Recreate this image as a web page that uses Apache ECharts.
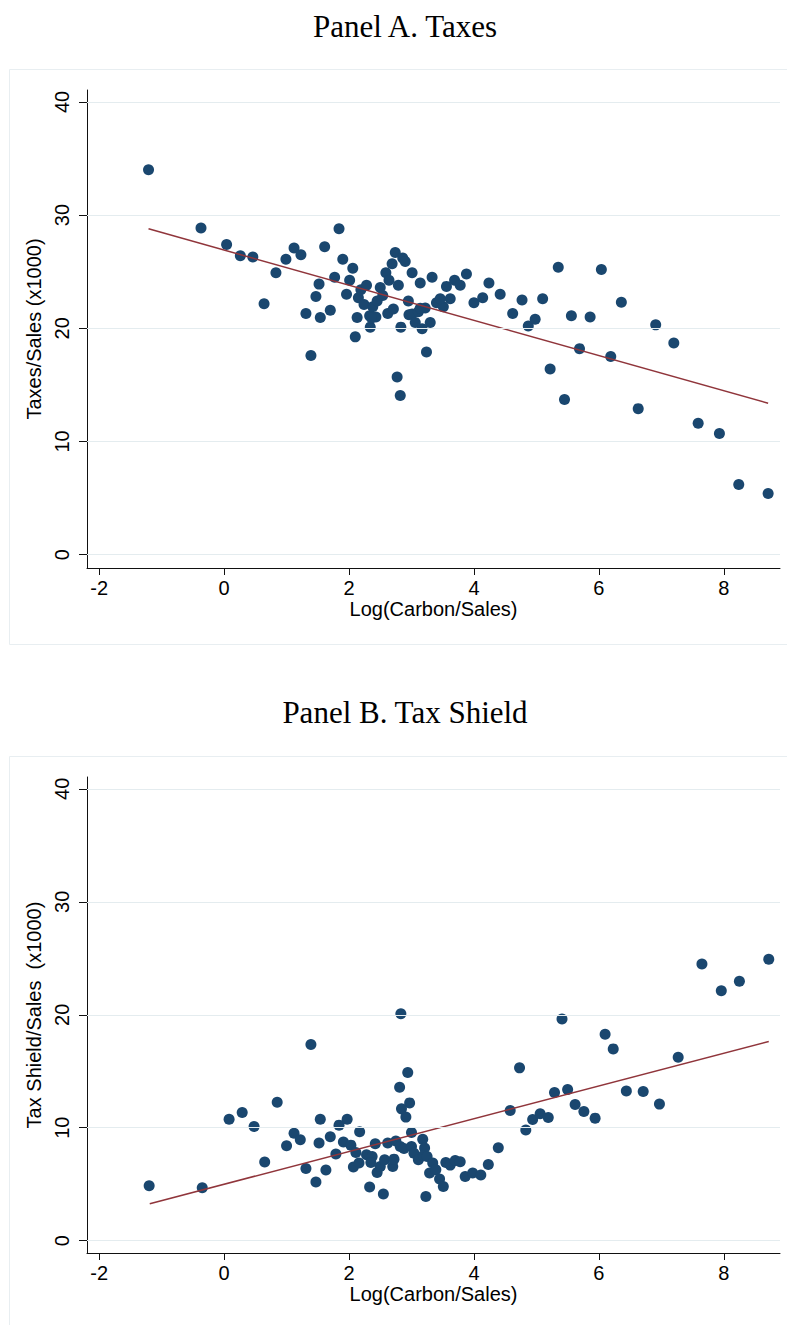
<!DOCTYPE html>
<html><head><meta charset="utf-8">
<script src="https://cdn.jsdelivr.net/npm/echarts@6/dist/echarts.min.js"></script>
<style>html,body{margin:0;padding:0;background:#fff}#c{width:787px;height:1325px}</style>
</head><body><div id="c"></div>
<script>
const xTicks = [-2, 0, 2, 4, 6, 8];
const yTicks = [0, 10, 20, 30, 40];

const taxX = [-1.21,-0.37,0.04,0.26,0.46,0.64,0.83,0.99,1.12,1.23,
  1.31,1.39,1.47,1.52,1.54,1.61,1.70,1.77,1.84,1.90,
  1.96,2.01,2.06,2.10,2.13,2.15,2.19,2.24,2.28,2.33,
  2.34,2.38,2.43,2.45,2.50,2.54,2.59,2.62,2.64,2.69,
  2.71,2.74,2.77,2.79,2.82,2.83,2.86,2.90,2.95,2.96,
  3.01,3.01,3.06,3.11,3.14,3.17,3.22,3.24,3.30,3.33,
  3.40,3.51,3.56,3.62,3.69,3.78,3.88,4.00,4.14,4.24,
  4.42,4.62,4.77,4.87,4.98,5.10,5.22,5.35,5.45,5.56,
  5.69,5.86,6.04,6.19,6.36,6.63,6.91,7.20,7.59,7.93,
  8.24,8.71,3.14,3.46,2.36];
const taxY = [34.0,28.85,27.4,26.4,26.3,22.16,24.9,26.1,27.1,26.5,
  21.3,17.6,22.8,23.9,20.95,27.2,21.6,24.5,28.8,26.1,
  23.0,24.25,25.3,19.24,20.95,22.7,23.4,22.1,23.8,21.1,
  20.1,21.9,21.0,22.4,23.6,22.9,24.9,21.3,24.25,25.7,
  21.7,26.7,15.7,23.8,14.06,20.1,26.2,25.9,22.4,21.2,
  24.9,21.25,20.5,21.45,24.0,19.95,21.8,17.9,20.5,24.5,
  22.25,21.9,23.7,22.6,24.25,23.8,24.8,22.25,22.7,24.0,
  23.0,21.3,22.5,20.2,20.8,22.6,16.4,25.4,13.7,21.1,
  18.2,21.0,25.2,17.5,22.3,12.9,20.3,18.7,11.6,10.7,
  6.2,5.4,21.76,22.6,20.9];

const shieldX = [-1.20,-0.35,0.08,0.29,0.48,0.65,0.85,1.00,1.12,1.22,
  1.31,1.39,1.47,1.52,1.54,1.63,1.70,1.79,1.84,1.97,
  1.91,2.03,2.07,2.17,2.11,2.16,2.28,2.33,2.37,2.35,
  2.42,2.45,2.50,2.55,2.57,2.62,2.70,2.72,2.75,2.82,
  2.83,2.94,2.81,2.97,2.84,2.91,3.00,2.88,3.00,3.04,
  3.11,3.18,3.21,3.19,3.25,3.23,3.29,3.34,3.39,3.45,
  3.51,3.55,3.62,3.70,3.78,3.86,3.98,4.11,4.23,4.39,
  4.58,4.73,4.83,4.94,5.06,5.19,5.29,5.41,5.50,5.62,
  5.76,5.94,6.10,6.23,6.44,6.71,6.97,7.27,7.65,7.96,
  8.25,8.72];
const shieldY = [4.86,4.69,10.76,11.34,10.1,6.96,12.26,8.4,9.52,8.93,
  6.39,17.36,5.19,8.64,10.76,6.25,9.2,7.67,10.23,10.76,
  8.73,8.46,6.52,9.64,7.81,6.87,7.6,4.75,7.45,6.92,
  8.58,6.04,6.57,4.13,7.16,8.64,6.57,7.22,8.82,8.34,
  20.1,14.88,13.59,12.2,11.67,10.94,9.58,8.16,8.34,7.75,
  7.16,8.99,8.2,7.52,7.45,3.92,5.99,6.87,6.28,5.46,
  4.8,6.92,6.69,7.1,6.98,5.69,5.99,5.81,6.75,8.22,
  11.52,15.3,9.79,10.73,11.23,10.9,13.11,19.63,13.38,12.05,
  11.43,10.85,18.28,16.98,13.26,13.2,12.09,16.24,24.49,22.13,
  22.96,24.91];

const taxFitX = [-1.21, 8.71];
const taxFitY = [28.79, 13.38];
const shieldFitX = [-1.19, 8.72];
const shieldFitY = [3.27, 17.64];

const panelTitles = ['Panel A. Taxes', 'Panel B. Tax Shield'];
const xName = 'Log(Carbon/Sales)';
const yNames = ['Taxes/Sales (x1000)', 'Tax Shield/Sales  (x1000)'];

const SANS = 'Liberation Sans';
const SERIF = 'Liberation Serif';
const NAVY = '#1a476f';
const MAROON = '#90353b';
const GRID_COLOR = '#e4ecef';

function zip(a, b) { return a.map((v, i) => [v, b[i]]); }

const grids = [
  { left: 87, right: 7, top: 90, height: 478, outerBoundsMode: 'none' },
  { left: 87, right: 7, top: 777, height: 476, outerBoundsMode: 'none' }
];
const yRanges = [[-1.18, 41.05], [-1.09, 41.05]];

const xAxes = [0, 1].map(i => ({
  gridIndex: i, type: 'value', min: -2.195, max: 8.9,
  axisLine: { show: true, onZero: false, lineStyle: { color: '#111', width: 1 } },
  axisTick: { show: true, length: 7, customValues: xTicks, lineStyle: { color: '#111', width: 1 } },
  axisLabel: { customValues: xTicks, margin: 10, fontFamily: SANS, fontSize: 20, color: '#000' },
  splitLine: { show: false },
  name: xName, nameLocation: 'middle', nameGap: 31,
  nameTextStyle: { fontFamily: SANS, fontSize: 20, color: '#000' }
}));
const yAxes = [0, 1].map(i => ({
  gridIndex: i, type: 'value', min: yRanges[i][0], max: yRanges[i][1],
  axisLine: { show: true, onZero: false, lineStyle: { color: '#111', width: 1 } },
  axisTick: { show: true, length: 8, customValues: yTicks, lineStyle: { color: '#111', width: 1 } },
  axisLabel: { customValues: yTicks, rotate: 90, margin: 15, fontFamily: SANS, fontSize: 20, color: '#000' },
  splitLine: { show: false },
  name: yNames[i], nameLocation: 'middle', nameGap: 31,
  nameTextStyle: { fontFamily: SANS, fontSize: 20, color: '#000' }
}));

const scatters = [zip(taxX, taxY), zip(shieldX, shieldY)];
const fits = [zip(taxFitX, taxFitY), zip(shieldFitX, shieldFitY)];

const series = [];
[0, 1].forEach(i => {
  series.push({
    type: 'line', xAxisIndex: i, yAxisIndex: i, data: [], z: 1, silent: true,
    markLine: {
      silent: true, symbol: ['none', 'none'], label: { show: false },
      lineStyle: { color: GRID_COLOR, type: 'solid', width: 1.2 },
      emphasis: { disabled: true },
      data: yTicks.map(v => ({ yAxis: v }))
    }
  });
  series.push({
    type: 'scatter', xAxisIndex: i, yAxisIndex: i, data: scatters[i], z: 3,
    symbol: 'circle', symbolSize: 11, itemStyle: { color: NAVY, opacity: 1 }
  });
  series.push({
    type: 'line', xAxisIndex: i, yAxisIndex: i, data: fits[i], z: 4,
    symbol: 'none', lineStyle: { color: MAROON, width: 1.5 }
  });
});

const chart = echarts.init(document.getElementById('c'), null, { renderer: 'svg' });
chart.setOption({
  animation: false,
  backgroundColor: '#fff',
  grid: grids,
  xAxis: xAxes,
  yAxis: yAxes,
  series: series,
  graphic: [
    { type: 'rect', silent: true, z: -1, shape: { x: 9.5, y: 69.5, width: 800, height: 575 },
      style: { fill: '#fff', stroke: '#e8eef1', lineWidth: 1 } },
    { type: 'rect', silent: true, z: -1, shape: { x: 9.5, y: 756.5, width: 800, height: 620 },
      style: { fill: '#fff', stroke: '#e8eef1', lineWidth: 1 } },
    { type: 'text', silent: true, x: 405, y: 26,
      style: { text: panelTitles[0], fontFamily: SERIF, fontSize: 31, fill: '#000', textAlign: 'center', textVerticalAlign: 'middle' } },
    { type: 'text', silent: true, x: 405, y: 712,
      style: { text: panelTitles[1], fontFamily: SERIF, fontSize: 31, fill: '#000', textAlign: 'center', textVerticalAlign: 'middle' } }
  ]
});
</script>
</body></html>
